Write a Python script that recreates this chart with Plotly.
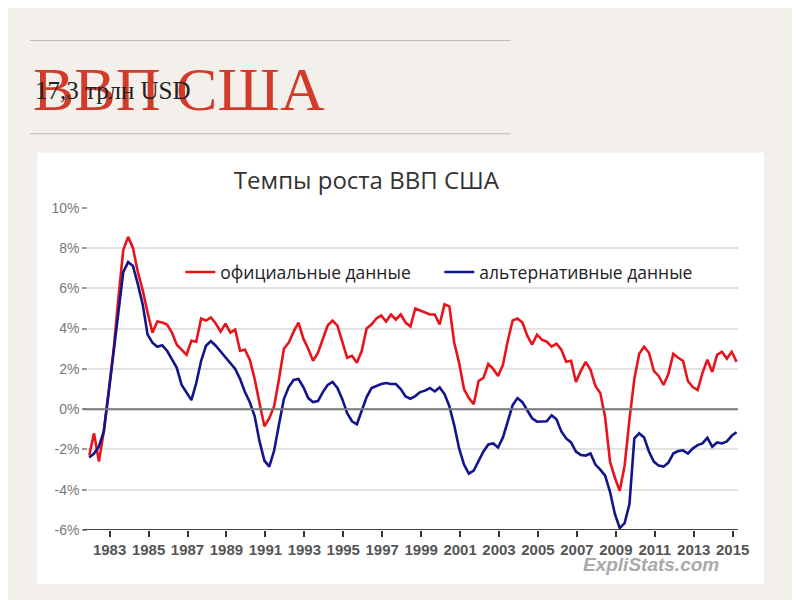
import plotly.graph_objects as go

# quarterly y/y growth, %, first point ~ end of 1981
start_year = 1981.95
official = [
    -2.3, -1.2, -2.6, -1.1, 0.9, 2.9, 5.5, 7.9, 8.55, 8.0, 6.8, 5.9, 4.8, 3.8, 4.35, 4.3,
    4.2, 3.8, 3.2, 2.95, 2.7, 3.4, 3.35, 4.5, 4.4, 4.55, 4.25, 3.85, 4.25, 3.8, 3.95, 2.9,
    2.95, 2.45, 1.5, 0.3, -0.85, -0.45, 0.15, 1.5, 3.0, 3.3, 3.85, 4.3, 3.5, 3.0, 2.4, 2.8,
    3.5, 4.15, 4.4, 4.15, 3.35, 2.55, 2.65, 2.3, 2.9, 4.0, 4.2, 4.5, 4.65, 4.35, 4.7, 4.45,
    4.7, 4.3, 4.1, 5.0, 4.9, 4.8, 4.7, 4.7, 4.2, 5.2, 5.1, 3.3, 2.3, 1.0, 0.55, 0.25,
    1.4, 1.55, 2.25, 2.0, 1.65, 2.2, 3.4, 4.4, 4.5, 4.3, 3.65, 3.2, 3.7, 3.45, 3.35, 3.1,
    3.25, 2.95, 2.35, 2.4, 1.35, 1.9, 2.35, 1.95, 1.15, 0.8, -0.4, -2.6, -3.4, -4.05, -2.8, -0.5,
    1.5, 2.75, 3.1, 2.8, 1.9, 1.65, 1.2, 1.75, 2.75, 2.55, 2.4, 1.4, 1.1, 0.95, 1.8, 2.45,
    1.85, 2.7, 2.85, 2.5, 2.85, 2.35,
]
alternative = [
    -2.4, -2.2, -1.85, -1.1, 0.8, 2.8, 4.8, 6.8, 7.3, 7.1, 6.2, 5.2, 3.7, 3.3, 3.1, 3.17,
    2.9, 2.5, 2.05, 1.2, 0.8, 0.45, 1.3, 2.4, 3.15, 3.38, 3.15, 2.85, 2.55, 2.3, 2.0, 1.5,
    0.85, 0.35, -0.35, -1.6, -2.55, -2.85, -2.05, -0.75, 0.5, 1.1, 1.45, 1.5, 1.1, 0.55, 0.35, 0.4,
    0.85, 1.2, 1.35, 1.05, 0.5, -0.2, -0.6, -0.75, -0.1, 0.6, 1.05, 1.15, 1.25, 1.3, 1.25, 1.25,
    1.0, 0.63, 0.52, 0.65, 0.85, 0.92, 1.05, 0.88, 1.08, 0.75, 0.15, -0.8, -1.95, -2.75, -3.2, -3.05,
    -2.6, -2.1, -1.75, -1.7, -1.9, -1.4, -0.6, 0.2, 0.55, 0.35, -0.05, -0.45, -0.62, -0.62, -0.6, -0.3,
    -0.5, -1.1, -1.45, -1.65, -2.1, -2.27, -2.3, -2.2, -2.75, -3.0, -3.3, -4.1, -5.2, -5.9, -5.65, -4.7,
    -1.45, -1.2, -1.4, -2.1, -2.6, -2.8, -2.85, -2.65, -2.2, -2.08, -2.04, -2.2, -1.95, -1.78, -1.7, -1.42,
    -1.86, -1.65, -1.7, -1.6, -1.32, -1.14,
]
years = [start_year + 0.25 * i for i in range(len(official))]

year_ticks = list(range(1983, 2016, 2))
pct_ticks = [-6, -4, -2, 0, 2, 4, 6, 8, 10]

# the page puts the figure at (8, 16) and the shot comes out slightly shrunk,
# so positions below are given in the target picture's pixels and mapped back
SX, SY = 800 / 812, 600 / 618
OX, OY = 8, 16
W, H = 804, 602


def px(x):
    return (x / SX - OX) / W


def py(y):
    return 1 - (y / SY - OY) / H


fig = go.Figure()
fig.add_trace(go.Scatter(x=years, y=official, mode="lines", name="официальные данные",
                         line=dict(color="#e8141c", width=2.6)))
fig.add_trace(go.Scatter(x=years, y=alternative, mode="lines", name="альтернативные данные",
                         line=dict(color="#12148c", width=2.6)))

shapes = [
    # white inset of the chart picture
    dict(type="rect", xref="paper", yref="paper", x0=px(37), x1=px(763), y0=py(582), y1=py(152),
         fillcolor="white", line=dict(width=0), layer="below"),
    # slide rules
    dict(type="line", xref="paper", yref="paper", x0=px(30), x1=px(510), y0=py(40), y1=py(40),
         line=dict(color="#bdbab5", width=1)),
    dict(type="line", xref="paper", yref="paper", x0=px(30), x1=px(510), y0=py(133), y1=py(133),
         line=dict(color="#bdbab5", width=1)),
    # bottom axis line and zero line, stretched a bit left like the picture
    dict(type="line", xref="paper", yref="y", x0=px(83), x1=px(737), y0=-6, y1=-6,
         line=dict(color="#444", width=2)),
    dict(type="line", xref="paper", yref="y", x0=px(83), x1=px(737), y0=0, y1=0,
         line=dict(color="#7a7a7a", width=2)),
]

annotations = [
    dict(text="ВВП США", x=px(31), y=py(88), xref="paper", yref="paper", xanchor="left",
         yanchor="middle", showarrow=False,
         font=dict(family="Liberation Serif", size=62, color="#d23a2a")),
    dict(text="17,3 трлн USD", x=px(33), y=py(90), xref="paper", yref="paper", xanchor="left",
         yanchor="middle", showarrow=False,
         font=dict(family="Liberation Serif", size=25, color="#222")),
    dict(text="<b><i>ExpliStats.com</i></b>", x=px(650), y=py(563), xref="paper", yref="paper",
         xanchor="center", yanchor="middle", showarrow=False,
         font=dict(family="Liberation Sans", size=19, color="#a9a9a9")),
]

fig.update_layout(
    width=W, height=H,
    margin=dict(l=0, r=0, t=0, b=0),
    paper_bgcolor="#f3f0eb",
    plot_bgcolor="white",
    title=dict(text="Темпы роста ВВП США", x=px(361), y=py(183), xanchor="center", yanchor="middle",
               font=dict(family="Open Sans", size=24, color="#333")),
    showlegend=True,
    legend=dict(orientation="h", x=px(180), y=py(271), xanchor="left", yanchor="middle",
                entrywidth=214, entrywidthmode="pixels",
                bgcolor="rgba(0,0,0,0)", font=dict(family="Open Sans", size=17.5, color="#222")),
    shapes=shapes,
    annotations=annotations,
    xaxis=dict(domain=[px(88), px(737)], range=[1981.9, 2015.27], tickvals=year_ticks,
               ticktext=[f"<b>{y}</b>" for y in year_ticks], showgrid=False, zeroline=False,
               ticks="outside", ticklen=6, tickwidth=2, tickcolor="#333",
               tickfont=dict(family="Liberation Sans", size=15, color="#555")),
    yaxis=dict(domain=[py(528.3), py(206.7)], range=[-6, 10], tickvals=pct_ticks,
               ticktext=[f"{v}%" for v in pct_ticks], showgrid=True, gridcolor="#e2e2e2",
               gridwidth=2, zeroline=False, ticks="outside", ticklen=5, tickwidth=2,
               tickcolor="#999", tickfont=dict(family="Liberation Sans", size=14, color="#777")),
)

fig.write_html("out.html")
